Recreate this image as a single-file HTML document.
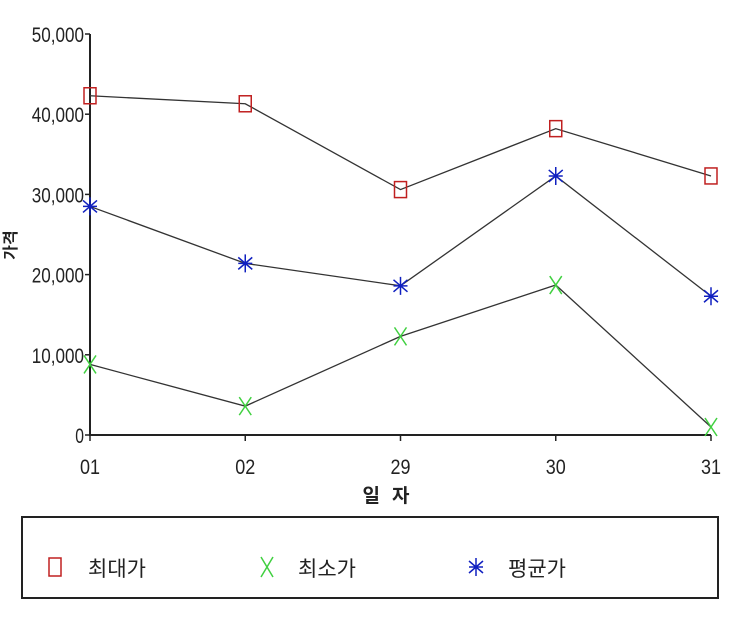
<!DOCTYPE html>
<html><head><meta charset="utf-8"><style>
html,body{margin:0;padding:0;background:#fff;}
svg text{font-family:"Liberation Sans","Noto Sans CJK KR",sans-serif;}
</style></head><body>
<svg width="730" height="630" viewBox="0 0 730 630" xmlns="http://www.w3.org/2000/svg">
<g id="plot"></g>
<rect x="22" y="517" width="696" height="81" fill="none" stroke="#222" stroke-width="2"/>
<g>
<rect x="49" y="558" width="12" height="18" fill="none" stroke="#c02020" stroke-width="1.5"/>
<text x="88" y="576" font-size="21" fill="#222">최대가</text></g>
<g>
<path d="M261 557 L273 577 M273 557 L261 577" stroke="#40d040" stroke-width="1.5"/>
<text x="298" y="576" font-size="21" fill="#222">최소가</text></g>
<g>
<path d="M476 558 L476 576 M469 561 L483 573 M483 561 L469 573 M469 567 L483 567" stroke="#1020c0" stroke-width="1.5"/>
<text x="508" y="576" font-size="21" fill="#222">평균가</text></g>
<text x="392" y="502" font-size="19" font-weight="bold" text-anchor="middle" letter-spacing="12" fill="#222">일자</text>
<text transform="translate(16,245) rotate(-90)" font-size="16" font-weight="bold" text-anchor="middle" fill="#222">가격</text>
</svg>
<script>
const categories=["01","02","29","30","31"];
const maxValues=[42300,41300,30600,38200,32300];
const minValues=[8800,3600,12300,18700,1000];
const avgValues=[28500,21400,18600,32300,17300];
const yTicks=[0,10000,20000,30000,40000,50000];
const NS="http://www.w3.org/2000/svg";
const g=document.getElementById("plot");
const x0=90,x1=711,y0=435,y1=34;
const xs=i=>x0+i*(x1-x0)/(categories.length-1);
const ys=v=>y0-(v/50000)*(y0-y1);
function mk(t,a){const e=document.createElementNS(NS,t);for(const k in a)e.setAttribute(k,a[k]);g.appendChild(e);return e;}
let ax=mk("path",{d:`M${x0} ${y1} L${x0} ${y0} L${x1} ${y0}`,stroke:"#222","stroke-width":2,fill:"none"});


yTicks.forEach(v=>{const y=ys(v);
mk("line",{x1:x0-5,x2:x0,y1:y,y2:y,stroke:"#222","stroke-width":1.5});
const s=v.toLocaleString("en-US");
const t=mk("text",{x:x0-6,y:y+8,"font-size":21,"text-anchor":"end",fill:"#222",textLength:s.length*8.7,lengthAdjust:"spacingAndGlyphs"});t.textContent=s;

});
categories.forEach((c,i)=>{const x=xs(i);
mk("line",{x1:x,x2:x,y1:y0,y2:y0+6,stroke:"#222","stroke-width":1.5});
const t=mk("text",{x:x,y:y0+39,"font-size":21,"text-anchor":"middle",fill:"#222",textLength:20,lengthAdjust:"spacingAndGlyphs"});t.textContent=c;

});
function series(vals,name,marker){
const l=mk("polyline",{points:vals.map((v,i)=>xs(i)+","+ys(v)).join(" "),fill:"none",stroke:"#333","stroke-width":1.3});


vals.forEach((v,i)=>{const x=xs(i),y=ys(v);let m;
if(marker==="sq")m=mk("rect",{x:x-6,y:y-8,width:12,height:16,fill:"none",stroke:"#c02020","stroke-width":1.5});
else if(marker==="x")m=mk("path",{d:`M${x-6} ${y-9} L${x+6} ${y+9} M${x+6} ${y-9} L${x-6} ${y+9}`,stroke:"#40d040","stroke-width":1.5});
else m=mk("path",{d:`M${x} ${y-9} L${x} ${y+9} M${x-7} ${y-6} L${x+7} ${y+6} M${x+7} ${y-6} L${x-7} ${y+6} M${x-7} ${y} L${x+7} ${y}`,stroke:"#1020c0","stroke-width":1.5});

});}
series(maxValues,"max","sq");
series(avgValues,"avg","star");
series(minValues,"min","x");
</script>
</body></html>
